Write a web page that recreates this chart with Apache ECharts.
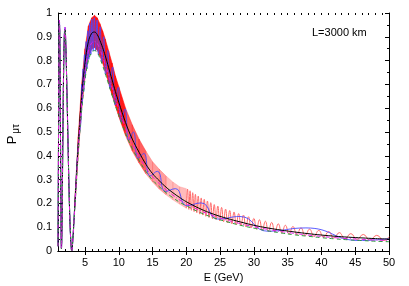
<!DOCTYPE html>
<html><head><meta charset="utf-8">
<script src="https://cdn.jsdelivr.net/npm/echarts@6/dist/echarts.min.js"></script>
<style>html,body{margin:0;padding:0;background:#fff}#c{width:409px;height:286px}</style>
</head><body><div id="c"></div>
<script>
// ---- tick labels ----
const xTicks = [5, 10, 15, 20, 25, 30, 35, 40, 45, 50];
const yTicks = [0, 0.1, 0.2, 0.3, 0.4, 0.5, 0.6, 0.7, 0.8, 0.9, 1];

// ---- smooth curves (black solid, green dashed, magenta dash-dot) ----
const E_main = [1.0,1.05,1.1,1.15,1.2,1.25,1.3,1.37,1.44,1.51,
  1.58,1.66,1.75,1.85,1.95,2.04,2.15,2.3,2.45,2.6,
  2.75,2.9,3.03,3.2,3.5,4.0,4.5,5.0,5.5,6.0,
  6.4,6.8,7.2,7.6,8.0,8.5,9.0,9.5,10,11,
  12,13,14,15,16,17,18,19,20,22,
  24,26,28,30,32,34,36,38,40,42,
  44,46,48,50];
const blackP = [0.02,0.3,0.62,0.86,0.96,0.93,0.78,0.48,0.17,0.01,
  0.08,0.3,0.56,0.79,0.91,0.93,0.87,0.7,0.5,0.3,
  0.14,0.04,0.0,0.05,0.2,0.45,0.65,0.79,0.88,0.915,
  0.92,0.91,0.885,0.855,0.82,0.77,0.72,0.67,0.625,0.54,
  0.47,0.415,0.365,0.325,0.295,0.268,0.245,0.225,0.207,0.178,
  0.155,0.137,0.122,0.108,0.097,0.088,0.08,0.073,0.067,0.062,
  0.058,0.055,0.052,0.05];
const greenP = [0.02,0.3,0.62,0.86,0.96,0.93,0.78,0.48,0.17,0.01,
  0.08,0.3,0.56,0.79,0.91,0.93,0.87,0.7,0.5,0.3,
  0.14,0.04,0.0,0.05,0.18,0.41,0.59,0.72,0.80,0.835,
  0.842,0.835,0.81,0.78,0.745,0.70,0.655,0.61,0.57,0.495,
  0.43,0.38,0.335,0.298,0.27,0.245,0.224,0.205,0.19,0.162,
  0.14,0.123,0.108,0.096,0.085,0.076,0.068,0.062,0.056,0.051,
  0.047,0.044,0.041,0.039];
const magentaP = [0.02,0.3,0.62,0.86,0.97,0.95,0.8,0.49,0.17,0.01,
  0.08,0.3,0.56,0.79,0.92,0.94,0.88,0.7,0.5,0.3,
  0.14,0.04,0.0,0.05,0.19,0.43,0.62,0.755,0.84,0.875,
  0.88,0.872,0.848,0.818,0.783,0.735,0.688,0.64,0.598,0.518,
  0.45,0.398,0.35,0.312,0.283,0.257,0.235,0.215,0.199,0.17,
  0.148,0.13,0.115,0.102,0.091,0.082,0.074,0.067,0.061,0.056,
  0.052,0.049,0.046,0.044];

// ---- blue curve (slow oscillation) ----
const E_blue = [1.0,1.05,1.1,1.15,1.2,1.25,1.3,1.37,1.44,1.51,
  1.58,1.66,1.75,1.85,1.95,2.04,2.15,2.3,2.45,2.6,
  2.75,2.9,3.03,3.2,3.5,4.0,
  4.42,4.51,4.60,4.71,4.81,4.92,5.04,5.16,5.28,5.42,
  5.56,5.70,5.86,6.02,6.20,6.38,6.57,6.78,7.00,7.24,
  7.49,7.76,8.05,8.37,8.70,9.07,9.47,9.91,10.38,10.92,
  11.49,12.15,12.87,13.70,14.62,15.70,16.92,18.38,20.08,22.17,
  24.69,27.93,32.05,37.70,45.66,50];
const blueP = [0.02,0.3,0.62,0.86,0.97,0.94,0.78,0.48,0.17,0.01,
  0.08,0.3,0.56,0.79,0.92,0.94,0.87,0.7,0.5,0.3,
  0.14,0.04,0.0,0.05,0.2,0.45,
  0.56,0.70,0.615,0.765,0.67,0.825,0.726,0.88,0.765,0.925,
  0.805,0.957,0.825,0.975,0.84,0.98,0.84,0.97,0.823,0.942,
  0.79,0.90,0.74,0.843,0.682,0.773,0.613,0.688,0.542,0.597,
  0.464,0.50,0.39,0.41,0.315,0.335,0.25,0.262,0.19,0.202,
  0.134,0.145,0.083,0.097,0.044,0.052];

// ---- red curve: dense band at low E, resolved oscillation at high E ----
const E_redBand = [3.5,4.0,4.5,5.0,5.5,6.0,6.4,6.8,7.2,7.6,8.0,8.5,9.0,9.5,10,11,12,13,14,15,16,17,18,19,20];
const redBandLow = [0.185,0.41,0.60,0.73,0.815,0.85,0.855,0.845,0.82,0.79,0.755,0.705,0.655,0.61,0.565,0.485,0.42,0.37,0.325,0.29,0.26,0.236,0.215,0.197,0.18];
const redBandHigh = [0.215,0.48,0.70,0.85,0.945,0.98,0.99,0.98,0.955,0.925,0.89,0.84,0.79,0.735,0.69,0.60,0.53,0.47,0.42,0.375,0.343,0.315,0.29,0.27,0.262];
const E_red = [20.00,20.18,20.37,20.55,20.75,20.94,21.14,21.34,21.55,21.76,
  21.98,22.20,22.42,22.65,22.88,23.12,23.36,23.61,23.87,24.13,
  24.39,24.66,24.94,25.22,25.51,25.81,26.11,26.42,26.74,27.06,
  27.40,27.74,28.09,28.45,28.82,29.20,29.59,29.99,30.40,30.82,
  31.25,31.70,32.15,32.63,33.11,33.61,34.13,34.66,35.21,35.78,
  36.36,36.97,37.59,38.24,38.91,39.60,40.32,41.07,41.84,42.64,
  43.48,44.35,45.25,46.19,47.17,48.19,49.26,50.00];
const redP = [0.180,0.260,0.175,0.253,0.171,0.245,0.166,0.238,0.161,0.231,
  0.155,0.223,0.151,0.217,0.146,0.210,0.141,0.203,0.136,0.195,
  0.132,0.189,0.127,0.183,0.123,0.176,0.118,0.170,0.114,0.164,
  0.110,0.157,0.106,0.151,0.101,0.144,0.0965,0.137,0.092,0.131,
  0.088,0.125,0.084,0.120,0.080,0.114,0.076,0.108,0.0724,0.103,
  0.0685,0.097,0.0647,0.0917,0.0611,0.0866,0.0576,0.0817,0.0543,0.0771,
  0.0513,0.073,0.0488,0.0695,0.0463,0.0658,0.0441,0.060];

const FONT = '"Liberation Sans", Arial, Helvetica, sans-serif';
const pairs = (xs, ys) => xs.map((x, i) => [x, ys[i]]);
const bandRows = E_redBand.map((e, i) => [e, redBandLow[i], redBandHigh[i]]);

function bandColor(e) {
  if (e < 11) return 'rgba(255,0,0,0.9)';
  if (e < 14) return 'rgba(255,40,40,0.75)';
  if (e < 17) return 'rgba(255,90,90,0.6)';
  return 'rgba(255,120,120,0.5)';
}

const chart = echarts.init(document.getElementById('c'), null, {renderer: 'canvas'});
const G = {left: 58, right: 20, top: 13, bottom: 35, outerBoundsMode: 'none', containLabel: false};
const black = '#000';
const baseX = {type: 'value', min: 1, max: 50, splitLine: {show: false}};
const option = {
  animation: false,
  grid: [G, Object.assign({}, G)],
  xAxis: [
    Object.assign({}, baseX, {gridIndex: 0, position: 'bottom',
      axisLine: {show: true, lineStyle: {color: black, width: 1}},
      axisTick: {show: true, inside: true, length: 4, customValues: xTicks, lineStyle: {color: black}},
      axisLabel: {customValues: xTicks, color: black, fontSize: 11, fontFamily: FONT, margin: 6},
      name: 'E (GeV)', nameLocation: 'middle', nameGap: 21,
      nameTextStyle: {color: black, fontSize: 11, fontFamily: FONT}}),
    Object.assign({}, baseX, {gridIndex: 0, position: 'top',
      axisLine: {show: true, lineStyle: {color: black, width: 1}},
      axisTick: {show: true, inside: true, length: 4, customValues: xTicks, lineStyle: {color: black}},
      axisLabel: {show: false}}),
    Object.assign({}, baseX, {gridIndex: 1, position: 'bottom', interval: 1,
      axisLine: {show: false},
      axisTick: {show: true, inside: true, length: 2, lineStyle: {color: black}},
      axisLabel: {show: false}}),
    Object.assign({}, baseX, {gridIndex: 1, position: 'top', interval: 1,
      axisLine: {show: false},
      axisTick: {show: true, inside: true, length: 2, lineStyle: {color: black}},
      axisLabel: {show: false}})
  ],
  yAxis: [
    {gridIndex: 0, type: 'value', min: 0, max: 1, interval: 0.1, position: 'left',
      splitLine: {show: false},
      axisLine: {show: true, lineStyle: {color: black, width: 1}},
      axisTick: {show: true, inside: true, length: 4, lineStyle: {color: black}},
      minorTick: {show: true, splitNumber: 2, length: 2, lineStyle: {color: black}},
      axisLabel: {color: black, fontSize: 11, fontFamily: FONT, margin: 6,
        formatter: v => String(Math.round(v * 10) / 10)}},
    {gridIndex: 0, type: 'value', min: 0, max: 1, interval: 0.1, position: 'right',
      splitLine: {show: false},
      axisLine: {show: true, lineStyle: {color: black, width: 1}},
      axisTick: {show: true, inside: true, length: 4, lineStyle: {color: black}},
      minorTick: {show: true, splitNumber: 2, length: 2, lineStyle: {color: black}},
      axisLabel: {show: false}},
    {gridIndex: 1, type: 'value', min: 0, max: 1, show: false}
  ],
  graphic: [
    {type: 'text', left: 312, top: 27, style: {text: 'L=3000 km', fill: black, font: '11px ' + FONT}},
    {type: 'text', x: 12, y: 140, rotation: Math.PI / 2,
      style: {text: 'P', fill: black, font: '13px ' + FONT, textAlign: 'center', textVerticalAlign: 'middle'}},
    {type: 'text', x: 16, y: 129, rotation: Math.PI / 2,
      style: {text: 'μτ', fill: black, font: '10px ' + FONT, textAlign: 'center', textVerticalAlign: 'middle'}}
  ],
  series: [
    {type: 'custom', name: 'redBand', xAxisIndex: 0, yAxisIndex: 0, z: 1,
      data: bandRows, encode: {x: 0, y: [1, 2]},
      renderItem: function (params, api) {
        const i = params.dataIndex;
        if (i >= bandRows.length - 1) return null;
        const a = bandRows[i], b = bandRows[i + 1];
        const p1 = api.coord([a[0], a[1]]), p2 = api.coord([b[0], b[1]]);
        const p3 = api.coord([b[0], b[2]]), p4 = api.coord([a[0], a[2]]);
        const col = bandColor((a[0] + b[0]) / 2);
        return {type: 'polygon', shape: {points: [p1, p2, p3, p4]},
          style: {fill: col, stroke: col, lineWidth: 0.6}};
      }},
    {type: 'line', name: 'red', data: pairs(E_red, redP), smooth: 0.5, symbol: 'none', z: 2,
      lineStyle: {color: '#ff6a6a', width: 1}},
    {type: 'line', name: 'blue', data: pairs(E_blue, blueP), smooth: 0.5, symbol: 'none', z: 3,
      lineStyle: {color: '#4a4aff', width: 0.9}},
    {type: 'line', name: 'black', data: pairs(E_main, blackP), smooth: 0.4, symbol: 'none', z: 4,
      lineStyle: {color: '#000', width: 1}},
    {type: 'line', name: 'green', data: pairs(E_main, greenP), smooth: 0.4, symbol: 'none', z: 5,
      lineStyle: {color: '#2e9a3e', width: 1, type: [4, 3]}},
    {type: 'line', name: 'magenta', data: pairs(E_main, magentaP), smooth: 0.4, symbol: 'none', z: 6,
      lineStyle: {color: '#e020e0', width: 1, type: [4, 2, 1, 2]}}
  ]
};
chart.setOption(option);
</script>
</body></html>
